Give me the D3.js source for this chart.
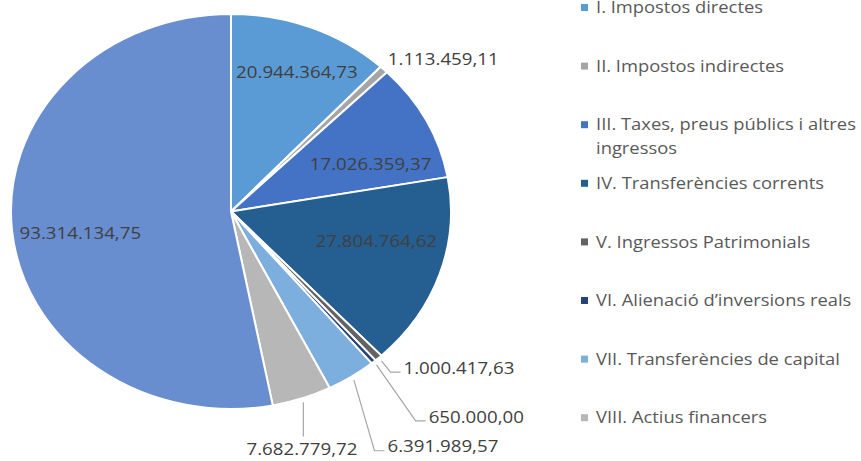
<!DOCTYPE html>
<html>
<head>
<meta charset="utf-8">
<script src="https://cdn.jsdelivr.net/npm/d3@7"></script>
<style>
  html, body { margin: 0; padding: 0; background: #fff; }
  svg { display: block; }
  text { font-family: "Open Sans", "Noto Sans", sans-serif; }
</style>
</head>
<body>
<svg id="chart" width="861" height="461"></svg>
<script>
// Ingressos del pressupost per capítols (euros)
const categories = [
  "I. Impostos directes",
  "II. Impostos indirectes",
  "III. Taxes, preus públics i altres ingressos",
  "IV. Transferències corrents",
  "V. Ingressos Patrimonials",
  "VI. Alienació d’inversions reals",
  "VII. Transferències de capital",
  "VIII. Actius financers",
  "IX. Passius financers"
];
const values = [
  20944364.73, 1113459.11, 17026359.37, 27804764.62,
  1000417.63, 650000.00, 6391989.57, 7682779.72, 93314134.75
];
const colors = [
  "#5B9BD5", "#A5A5A5", "#4472C4", "#255E91",
  "#636363", "#264478", "#7CAFDD", "#B7B7B7", "#698ED0"
];

// Label placement: inside labels sit near the slice centroid,
// outside labels hang off the rim with an optional leader line.
const labelLayout = [
  { mode: "inside",  dx: 8,  dy: -8 },
  { mode: "outside", dx: 4,  dy: -11, anchor: "start",  leader: null },
  { mode: "inside",  dx: -1, dy: 17 },
  { mode: "inside",  dx: -5, dy: -16 },
  { mode: "outside", dx: 25, dy: 9,   anchor: "start",  leader: "elbow" },
  { mode: "outside", dx: 55, dy: 54,  anchor: "start",  leader: "elbow" },
  { mode: "outside", dx: 36, dy: 69,  anchor: "start",  leader: "elbow" },
  { mode: "outside", dx: 0,  dy: 50,  anchor: "middle", leader: "vertical" },
  { mode: "inside",  dx: 7,  dy: 7 }
];

const locale = d3.formatLocale({ decimal: ",", thousands: ".", grouping: [3], currency: ["", " €"] });
const fmt = locale.format(",.2f");

const svg = d3.select("#chart");
const W = 861, H = 461;
const cx = 231, cy = 211.5, rx = 220, ry = 197.5;
const R = 100;                 // unit radius, stretched into the ellipse below
const sx = rx / R, sy = ry / R;
const textStretch = 1.1;
const legendStretch = 1.08;
const fontSize = 17;

const pie = d3.pie().sort(null).value(d => d)(values);
const arc = d3.arc().innerRadius(0).outerRadius(R);

// point on the (stretched) pie at a given angle and radius fraction
function at(angle, frac) {
  return [cx + Math.sin(angle) * rx * frac, cy - Math.cos(angle) * ry * frac];
}

const pieG = svg.append("g")
  .attr("transform", `translate(${cx},${cy}) scale(${sx},${sy})`);

pieG.selectAll("path.slice")
  .data(pie)
  .join("path")
  .attr("class", "slice")
  .attr("d", arc)
  .attr("fill", (d, i) => colors[i])
  .attr("stroke", "#fff")
  .attr("stroke-width", 2)
  .attr("stroke-linejoin", "round")
  .attr("vector-effect", "non-scaling-stroke");

// Data labels
const labelG = svg.append("g");
pie.forEach((d, i) => {
  const L = labelLayout[i];
  const mid = (d.startAngle + d.endAngle) / 2;
  let tx, ty;
  if (L.mode === "inside") {
    const p = at(mid, 0.72);
    tx = p[0] + L.dx; ty = p[1] + L.dy;
  } else {
    const e = at(mid, 1);
    tx = e[0] + L.dx; ty = e[1] + L.dy;
    const s = at(mid, 1.02);
    if (L.leader === "elbow") {
      labelG.append("polyline")
        .attr("points", [s, [tx - 13, ty + 5], [tx - 3, ty + 5]].map(p => p.join(",")).join(" "))
        .attr("fill", "none").attr("stroke", "#A6A6A6").attr("stroke-width", 1.2);
    } else if (L.leader === "vertical") {
      labelG.append("line")
        .attr("x1", s[0]).attr("y1", s[1])
        .attr("x2", s[0]).attr("y2", ty - 12)
        .attr("stroke", "#A6A6A6").attr("stroke-width", 1.2);
    }
  }
  labelG.append("text")
    .attr("transform", `translate(${tx},${ty}) scale(${textStretch},1)`)
    .attr("text-anchor", L.anchor || "middle")
    .attr("dominant-baseline", "central")
    .attr("font-size", fontSize)
    .attr("fill", "#404040")
    .text(fmt(values[i]));
});

// Legend (entries that fall below the drawing area are left out)
const legX = 581, legTextX = 596, legTop = 7.5, legStep = 58.6, lineH = 23.5;
const legMax = (W - legTextX - 1) / legendStretch;
const legG = svg.append("g");
categories.forEach((c, i) => {
  const y = legTop + i * legStep;
  if (y > H) return;
  legG.append("rect")
    .attr("x", legX).attr("y", y - 3.5)
    .attr("width", 7).attr("height", 7)
    .attr("fill", colors[i]);
  const t = legG.append("text")
    .attr("transform", `translate(${legTextX},${y - 1}) scale(${legendStretch},1)`)
    .attr("font-size", fontSize)
    .attr("fill", "#595959")
    .attr("dominant-baseline", "central");
  // wrap words to the legend column width
  const words = c.split(" ");
  let line = [];
  let ts = t.append("tspan").attr("x", 0).attr("dy", 0);
  words.forEach(w => {
    line.push(w);
    ts.text(line.join(" "));
    if (ts.node().getComputedTextLength() > legMax && line.length > 1) {
      line.pop();
      ts.text(line.join(" "));
      line = [w];
      ts = t.append("tspan").attr("x", 0).attr("dy", lineH).text(w);
    }
  });
});
</script>
</body>
</html>
